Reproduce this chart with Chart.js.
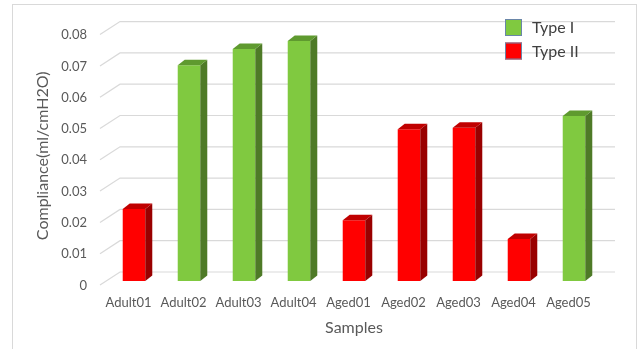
<!DOCTYPE html>
<html>
<head>
<meta charset="utf-8">
<script src="https://cdn.jsdelivr.net/npm/chart.js@4/dist/chart.umd.min.js"></script>
<style>
  html, body { margin: 0; padding: 0; background: #fff; }
  #wrap { width: 638px; height: 349px; }
</style>
</head>
<body>
<div id="wrap"><canvas id="chart" width="638" height="349"></canvas></div>
<script>
// Samples along the x axis
const categories = ['Adult01', 'Adult02', 'Adult03', 'Adult04', 'Aged01', 'Aged02', 'Aged03', 'Aged04', 'Aged05'];
// Compliance per sample, split by fibre type (null where the sample is of the other type)
const typeI  = [null, 0.0689, 0.0741, 0.0767, null, null, null, null, 0.0527];
const typeII = [0.0230, null, null, null, 0.0194, 0.0485, 0.0490, 0.0134, null];
// Value axis labels
const yTickLabels = ['0', '0.01', '0.02', '0.03', '0.04', '0.05', '0.06', '0.07', '0.08'];

const FONT = 'Lato, "Open Sans", sans-serif';
const DEPTH_X = 7, DEPTH_Y = 5.5;           // bar depth offset
const WALL_X = 13.5, WALL_Y = 9;            // back wall offset
const FLOOR_X = -6.5, FLOOR_Y = 4;          // front edge of the side wall

const faceColors = [
  { side: '#4e7a27', top: '#5f9a2f' },
  { side: '#990000', top: '#c00000' }
];

// White page with a light frame
const framePlugin = {
  id: 'frame',
  beforeDraw(chart) {
    const ctx = chart.ctx;
    ctx.save();
    ctx.fillStyle = '#ffffff';
    ctx.fillRect(0, 0, chart.width, chart.height);
    ctx.strokeStyle = '#d9d9d9';
    ctx.lineWidth = 1;
    ctx.strokeRect(12.5, 4.5, 624, 360);
    ctx.restore();
  }
};

// Gridlines on the back wall, with a slanted segment on the side wall
const wallGridPlugin = {
  id: 'wallGrid',
  beforeDatasetsDraw(chart) {
    const { ctx, chartArea } = chart;
    const y = chart.scales.y;
    ctx.save();
    ctx.strokeStyle = '#d9d9d9';
    ctx.lineWidth = 1.2;
    y.ticks.forEach(t => {
      const py = y.getPixelForValue(t.value);
      ctx.beginPath();
      ctx.moveTo(chartArea.left + FLOOR_X, py + FLOOR_Y);
      ctx.lineTo(chartArea.left + WALL_X, py - WALL_Y);
      ctx.lineTo(chartArea.right + WALL_X, py - WALL_Y);
      ctx.stroke();
    });
    ctx.restore();
  }
};

// Side and top faces of each column
const columnFacesPlugin = {
  id: 'columnFaces',
  afterDatasetsDraw(chart) {
    const ctx = chart.ctx;
    ctx.save();
    chart.data.datasets.forEach((ds, di) => {
      const meta = chart.getDatasetMeta(di);
      meta.data.forEach((bar, i) => {
        if (ds.data[i] == null) return;
        const { x, y, base, width } = bar.getProps(['x', 'y', 'base', 'width'], true);
        const l = x - width / 2, r = x + width / 2;
        ctx.fillStyle = faceColors[di].side;
        ctx.beginPath();
        ctx.moveTo(r, y);
        ctx.lineTo(r + DEPTH_X, y - DEPTH_Y);
        ctx.lineTo(r + DEPTH_X, base - DEPTH_Y);
        ctx.lineTo(r, base);
        ctx.closePath();
        ctx.fill();
        ctx.fillStyle = faceColors[di].top;
        ctx.beginPath();
        ctx.moveTo(l, y);
        ctx.lineTo(l + DEPTH_X, y - DEPTH_Y);
        ctx.lineTo(r + DEPTH_X, y - DEPTH_Y);
        ctx.lineTo(r, y);
        ctx.closePath();
        ctx.fill();
      });
    });
    ctx.restore();
  }
};

// Legend in the upper right corner
const cornerLegendPlugin = {
  id: 'cornerLegend',
  afterDraw(chart) {
    const ctx = chart.ctx;
    ctx.save();
    const x0 = 505, y0 = 19, box = 17, gap = 23.5;
    chart.data.datasets.forEach((ds, i) => {
      const yy = y0 + i * gap;
      ctx.fillStyle = ds.backgroundColor;
      ctx.fillRect(x0, yy, box, box);
      ctx.strokeStyle = '#6a86a8';
      ctx.lineWidth = 1;
      ctx.strokeRect(x0 + 0.5, yy + 0.5, box - 1, box - 1);
      ctx.fillStyle = '#404040';
      ctx.font = '16px ' + FONT;
      ctx.textBaseline = 'middle';
      ctx.textAlign = 'left';
      ctx.fillText(ds.label, x0 + 27, yy + box / 2 + 0.5);
    });
    ctx.restore();
  }
};

new Chart(document.getElementById('chart'), {
  type: 'bar',
  data: {
    labels: categories,
    datasets: [
      { label: 'Type I', data: typeI, backgroundColor: '#80c940', grouped: false },
      { label: 'Type II', data: typeII, backgroundColor: '#ff0000', grouped: false }
    ]
  },
  options: {
    responsive: false,
    animation: false,
    layout: { padding: { left: 0, top: 30.6, right: 36.5, bottom: 8 } },
    datasets: { bar: { barPercentage: 0.41, categoryPercentage: 1 } },
    plugins: {
      legend: { display: false },
      tooltip: { enabled: false }
    },
    scales: {
      x: {
        afterFit(scale) { scale.height = 60; },
        grid: { display: false, drawTicks: false },
        border: { display: false },
        ticks: {
          color: '#595959',
          font: { family: FONT, size: 13 },
          padding: 14,
          labelOffset: -5.5,
          maxRotation: 0,
          autoSkip: false
        },
        title: {
          display: true,
          text: 'Samples',
          color: '#595959',
          font: { family: FONT, size: 16 },
          padding: { top: 7, bottom: 4 }
        }
      },
      y: {
        min: 0,
        max: 0.08,
        afterFit(scale) { scale.width = 106.5; },
        grid: { display: false, drawTicks: false },
        border: { display: false },
        ticks: {
          stepSize: 0.01,
          color: '#595959',
          font: { family: FONT, size: 13 },
          padding: 19.5,
          labelOffset: 4.5,
          callback: (v, i) => yTickLabels[i]
        },
        title: {
          display: true,
          text: 'Compliance(ml/cmH2O)',
          color: '#595959',
          font: { family: FONT, size: 16 },
          padding: { top: 33.4, bottom: 0 }
        }
      }
    }
  },
  plugins: [framePlugin, wallGridPlugin, columnFacesPlugin, cornerLegendPlugin]
});
</script>
</body>
</html>
